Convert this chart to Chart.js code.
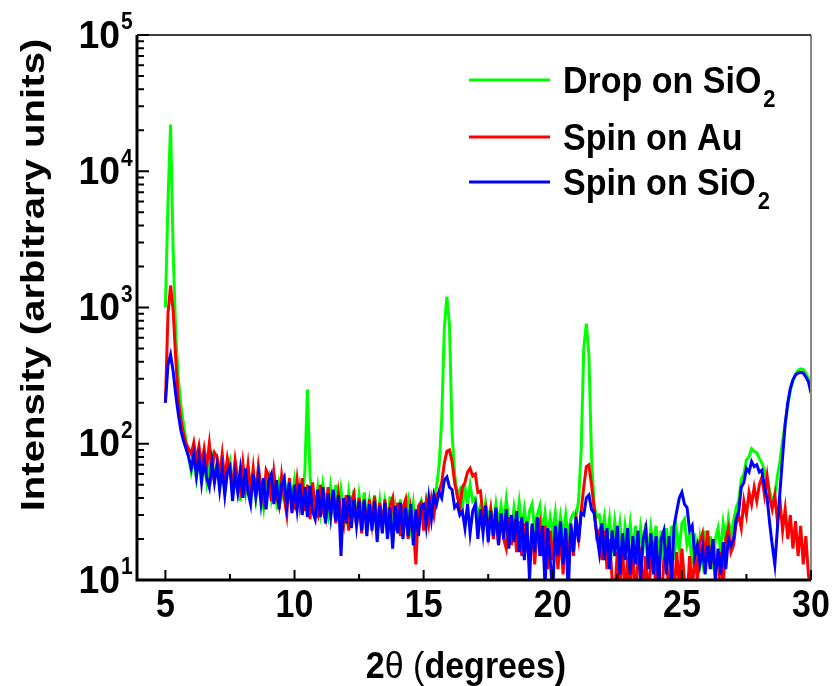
<!DOCTYPE html>
<html>
<head>
<meta charset="utf-8">
<script src="https://cdn.jsdelivr.net/npm/chart.js@4.4.0/dist/chart.umd.min.js"></script>
<style>
    body { margin: 0; background: #fff; }
    canvas { display: block; }
</style>
</head>
<body>
<canvas id="myChart" width="835" height="686"></canvas>
<script>
// scan grid: 5.0 .. 30.0 degrees in 0.1 steps
const angle_start = 5.0
const angle_step = 0.1

// Drop on SiO2 (green), one row per degree
const drop_on_sio2 = [
    1000, 6000, 22000, 2600, 650, 300, 190, 140, 105, 80,
    62, 78, 56, 82, 58, 74, 52, 70, 80, 55,
    72, 50, 66, 45, 62, 74, 48, 64, 58, 38,
    62, 44, 68, 42, 58, 40, 64, 46, 34, 56,
    60, 40, 55, 38, 52, 42, 60, 34, 50, 40,
    54, 36, 50, 40, 62, 250, 58, 40, 34, 48,
    32, 50, 38, 30, 48, 34, 50, 30, 46, 33,
    28, 44, 32, 46, 26, 42, 30, 44, 26, 38,
    28, 42, 26, 38, 24, 37, 27, 41, 25, 35,
    26, 39, 24, 35, 40, 25, 36, 23, 34, 38,
    27, 38, 29, 40, 42, 48, 70, 150, 700, 1200,
    750, 120, 60, 42, 46, 34, 48, 36, 50, 38,
    40, 30, 35, 27, 37, 28, 34, 25, 36, 26,
    35, 25, 39, 27, 23, 34, 25, 37, 24, 33,
    23, 32, 36, 23, 30, 35, 22, 31, 21, 29,
    22, 31, 20, 29, 21, 30, 20, 28, 31, 29,
    38, 90, 500, 760, 450, 80, 36, 29, 30, 22,
    29, 19, 28, 18, 27, 18, 26, 16, 25, 18,
    26, 16, 25, 15, 24, 17, 26, 15, 24, 17,
    25, 15, 23, 14, 24, 16, 25, 14, 23, 17,
    26, 28, 18, 21, 13, 22, 12, 20, 14, 23,
    14, 21, 12, 20, 24, 16, 26, 19, 28, 21,
    27, 34, 38, 55, 60, 76, 80, 92, 88, 86,
    78, 72, 64, 55, 45, 38, 42, 58, 75, 105,
    140, 190, 246, 290, 325, 345, 355, 350, 330, 300,
    250
]

// Spin on Au (red)
const spin_on_au = [
    200, 900, 1450, 950, 420, 210, 150, 118, 100, 92,
    84, 102, 76, 96, 70, 92, 68, 100, 62, 86,
    80, 58, 84, 54, 78, 62, 50, 76, 56, 46,
    72, 48, 70, 44, 66, 42, 68, 48, 38, 64,
    58, 38, 62, 42, 35, 58, 40, 30, 56, 36,
    34, 54, 36, 56, 32, 50, 28, 52, 34, 30,
    50, 32, 28, 48, 30, 45, 26, 43, 30, 25,
    42, 23, 38, 43, 25, 40, 22, 38, 24, 39,
    26, 41, 22, 37, 24, 39, 21, 35, 40, 23,
    37, 21, 34, 39, 20, 33, 24, 13, 35, 37,
    23, 36, 26, 39, 30, 42, 45, 52, 72, 88,
    90, 74, 52, 42, 34, 48, 52, 62, 66, 58,
    60, 44, 45, 30, 34, 22, 32, 20, 31, 18,
    30, 20, 17, 29, 18, 28, 16, 27, 15, 26,
    18, 14, 25, 13, 24, 27, 15, 25, 12, 23,
    14, 24, 12, 22, 11, 23, 13, 25, 15, 27,
    20, 32, 48, 68, 70, 50, 34, 21, 23, 14,
    23, 12, 20, 10, 8, 16, 9, 18, 7, 15,
    9, 17, 7, 14, 16, 8, 15, 7, 14, 17,
    8, 15, 6, 14, 16, 7, 14, 8, 16, 9,
    17, 10, 7, 15, 8, 16, 10, 19, 22, 14,
    23, 12, 20, 10, 7, 16, 9, 20, 24, 16,
    18, 26, 30, 24, 38, 30, 44, 36, 48, 38,
    50, 57, 42, 58, 40, 33, 42, 27, 38, 23,
    33, 20, 30, 17, 27, 15, 25, 13, 21, 11,
    8
]

// Spin on SiO2 (blue)
const spin_on_sio2 = [
    200, 380, 450, 340, 230, 165, 125, 105, 92, 80,
    66, 84, 58, 80, 52, 76, 56, 48, 74, 52,
    70, 46, 66, 42, 62, 68, 38, 60, 44, 64,
    40, 66, 44, 36, 60, 41, 58, 37, 56, 33,
    54, 60, 36, 54, 33, 50, 56, 35, 52, 31,
    50, 33, 51, 30, 48, 29, 49, 32, 28, 46,
    29, 48, 26, 43, 29, 46, 27, 42, 15, 40,
    26, 42, 24, 39, 25, 38, 23, 39, 21, 36,
    23, 38, 19, 35, 22, 37, 20, 34, 17, 35,
    22, 37, 20, 34, 21, 36, 18, 33, 21, 35,
    36, 25, 40, 28, 42, 36, 44, 40, 54, 57,
    48, 46, 34, 36, 30, 32, 24, 36, 22, 32,
    36, 20, 33, 22, 35, 19, 32, 21, 34, 18,
    31, 20, 33, 17, 30, 19, 32, 16, 29, 14,
    27, 10, 26, 16, 29, 15, 25, 9, 24, 14,
    8, 25, 15, 27, 13, 24, 8, 26, 16, 29,
    19, 31, 30, 40, 42, 33, 31, 22, 16, 26,
    14, 24, 12, 23, 15, 25, 11, 22, 14, 24,
    11, 21, 13, 23, 10, 20, 24, 12, 22, 11,
    21, 9, 20, 23, 11, 21, 10, 25, 32, 40,
    44, 36, 34, 23, 25, 15, 18, 13, 17, 11,
    18, 12, 20, 10, 17, 11, 19, 12, 20, 18,
    20, 28, 32, 48, 52, 66, 62, 74, 68, 70,
    62, 64, 48, 40, 26, 18, 13, 24, 45, 80,
    140, 200, 255, 295, 320, 330, 335, 330, 310, 285,
    235
]

const x_tick_labels = [5, 10, 15, 20, 25, 30]
const x_minor_ticks = [7.5, 12.5, 17.5, 22.5, 27.5]
const y_tick_labels = [10, 100, 1000, 10000, 100000]
const legend_labels = [['Drop on SiO', '2'], ['Spin on Au', ''], ['Spin on SiO', '2']]
const series_colors = ['#00ff00', '#ff0000', '#0000ff']

const FONT = "'Liberation Sans', Arial, sans-serif"

function to_points(values){
    return values.map((v, i) => ({ x: +(angle_start + i * angle_step).toFixed(1), y: v }))
}

// the original lettering is a bit taller than Arial, so stretch it
function put_text(ctx, text, x, y, sx, sy){
    ctx.save()
    ctx.translate(x, y)
    ctx.scale(sx, sy)
    ctx.fillText(text, 0, 0)
    ctx.restore()
}

const all_series = [drop_on_sio2, spin_on_au, spin_on_sio2]

const graph_data = {
    datasets: all_series.map((values, i) => ({
        label: legend_labels[i][0] + legend_labels[i][1],
        data: to_points(values),
        borderColor: series_colors[i],
        backgroundColor: series_colors[i],
        borderWidth: 3,
        pointRadius: 0,
        tension: 0,
        fill: false,
        order: 2 - i   // blue on top, green at the back
    }))
}

// frame, inward ticks, labels with superscripts, titles and legend
const frame_plugin = {
    id: 'frame_plugin',
    afterDatasetsDraw(chart) {
        const ctx = chart.ctx
        const a = chart.chartArea
        const xs = chart.scales.x
        const ys = chart.scales.y
        ctx.save()

        // right border is grey, top is thin black
        ctx.lineCap = 'butt'
        ctx.strokeStyle = '#888'
        ctx.lineWidth = 2
        ctx.beginPath()
        ctx.moveTo(a.right, a.top)
        ctx.lineTo(a.right, a.bottom)
        ctx.stroke()
        ctx.strokeStyle = '#000'
        ctx.lineWidth = 1.5
        ctx.beginPath()
        ctx.moveTo(a.left, a.top)
        ctx.lineTo(a.right, a.top)
        ctx.stroke()

        // left and bottom axes
        ctx.lineWidth = 3
        ctx.beginPath()
        ctx.moveTo(a.left, a.top)
        ctx.lineTo(a.left, a.bottom)
        ctx.lineTo(a.right, a.bottom)
        ctx.stroke()

        // x ticks point inward
        ctx.lineWidth = 2
        ctx.beginPath()
        x_tick_labels.forEach(v => {
            const px = xs.getPixelForValue(v)
            ctx.moveTo(px, a.bottom)
            ctx.lineTo(px, a.bottom - 10)
        })
        x_minor_ticks.forEach(v => {
            const px = xs.getPixelForValue(v)
            ctx.moveTo(px, a.bottom)
            ctx.lineTo(px, a.bottom - 6)
        })
        ctx.stroke()

        // y ticks, log decades with minor ticks
        ctx.beginPath()
        y_tick_labels.forEach((v, k) => {
            const py = ys.getPixelForValue(v)
            ctx.moveTo(a.left, py)
            ctx.lineTo(a.left + 12, py)
            if (k < y_tick_labels.length - 1) {
                for (let m = 2; m <= 9; m++) {
                    const pm = ys.getPixelForValue(v * m)
                    ctx.moveTo(a.left, pm)
                    ctx.lineTo(a.left + 7, pm)
                }
            }
        })
        ctx.stroke()

        ctx.fillStyle = '#000'

        // x tick labels
        ctx.font = 'bold 34px ' + FONT
        ctx.textAlign = 'center'
        ctx.textBaseline = 'middle'
        x_tick_labels.forEach(v => {
            put_text(ctx, String(v), xs.getPixelForValue(v), 606, 1, 1.12)
        })

        // y tick labels as 10^n
        y_tick_labels.forEach(v => {
            const py = ys.getPixelForValue(v)
            ctx.font = 'bold 34px ' + FONT
            ctx.textAlign = 'right'
            ctx.textBaseline = 'middle'
            put_text(ctx, '10', a.left - 17, py + 2, 1.1, 1.12)
            ctx.font = 'bold 21px ' + FONT
            ctx.textAlign = 'left'
            put_text(ctx, String(Math.round(Math.log10(v))), a.left - 16, py - 12, 1, 1.1)
        })

        // x title: 2θ (degrees)
        const parts = [['2', 'bold'], ['\u03b8', 'normal'], [' ', 'bold'], ['(', 'normal'], ['degrees)', 'bold']]
        let total = 0
        parts.forEach(p => { ctx.font = p[1] + ' 34px ' + FONT; total += ctx.measureText(p[0]).width })
        let tx = 466 - total / 2
        ctx.textAlign = 'left'
        ctx.textBaseline = 'alphabetic'
        parts.forEach(p => {
            ctx.font = p[1] + ' 34px ' + FONT
            put_text(ctx, p[0], tx, 678, 1, 1.1)
            tx += ctx.measureText(p[0]).width
        })

        // y title
        ctx.save()
        ctx.translate(44, 275)
        ctx.rotate(-Math.PI / 2)
        ctx.font = 'bold 34px ' + FONT
        ctx.textAlign = 'center'
        put_text(ctx, 'Intensity (arbitrary units)', 0, 0, 1.18, 1)
        ctx.restore()

        // legend
        const rows = [80, 137, 182]
        legend_labels.forEach((lab, i) => {
            const y = rows[i]
            ctx.strokeStyle = series_colors[i]
            ctx.lineWidth = 3
            ctx.beginPath()
            ctx.moveTo(469, y)
            ctx.lineTo(550, y)
            ctx.stroke()
            ctx.font = 'bold 34px ' + FONT
            ctx.textAlign = 'left'
            ctx.textBaseline = 'alphabetic'
            put_text(ctx, lab[0], 563, y + 13, 1, 1.1)
            if (lab[1]) {
                const w = ctx.measureText(lab[0]).width
                ctx.font = 'bold 22px ' + FONT
                put_text(ctx, lab[1], 563 + w + 2, y + 27, 1, 1.1)
            }
        })

        ctx.restore()
    }
}

const config = {
    type: 'line',
    data: graph_data,
    options: {
        responsive: false,
        animation: false,
        layout: { padding: { top: 35, right: 24, left: 0, bottom: 0 } },
        plugins: {
            legend: { display: false },
            tooltip: { enabled: false }
        },
        scales: {
            x: {
                type: 'linear',
                min: 3.9,
                max: 30,
                grid: { display: false },
                border: { display: false },
                ticks: { display: false },
                afterFit(scale) { scale.height = 106 }
            },
            y: {
                type: 'logarithmic',
                min: 10,
                max: 100000,
                grid: { display: false },
                border: { display: false },
                ticks: { display: false },
                afterFit(scale) { scale.width = 137 }
            }
        }
    },
    plugins: [frame_plugin]
}

var ctx = document.getElementById('myChart').getContext('2d')
var myChart = new Chart(ctx, config)
</script>
</body>
</html>
